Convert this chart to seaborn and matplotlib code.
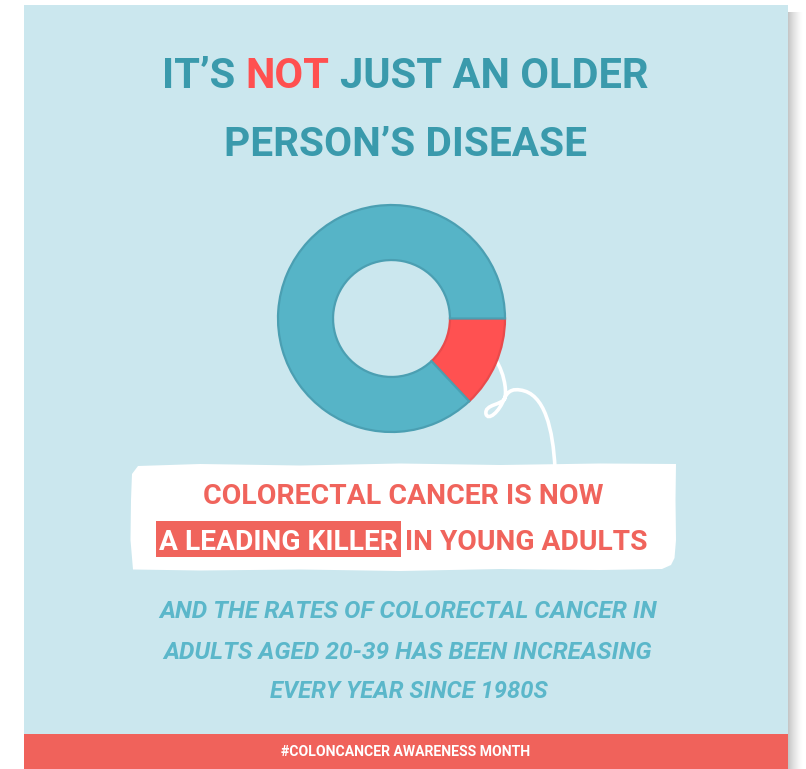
import matplotlib
matplotlib.use("Agg")
import numpy as np
import matplotlib.pyplot as plt
import seaborn as sns
from matplotlib.patches import Rectangle, Polygon, PathPatch
from matplotlib.path import Path

# ---- chart content -------------------------------------------------------
segment_labels = ["Young adults", "Other ages"]
segment_values = [13, 87]
segment_colors = ["#FF5151", "#56B4C7"]
segment_edges = ["#E94A4B", "#4B9FB2"]

title_parts = ["IT’S", "NOT", "JUST AN OLDER"]
title_line2 = "PERSON’S DISEASE"
callout_line1 = "COLORECTAL CANCER IS NOW"
callout_parts = ["A LEADING KILLER", "IN YOUNG ADULTS"]
detail_lines = [
    "AND THE RATES OF COLORECTAL CANCER IN",
    "ADULTS AGED 20-39 HAS BEEN INCREASING",
    "EVERY YEAR SINCE 1980S",
]
footer_text = "#COLONCANCER AWARENESS MONTH"

# ---- palette ---------------------------------------------------------------
BG = "#CBE7EE"
TEAL_TEXT = "#3A9AAC"
RED_TEXT = "#FF5050"
CORAL = "#F0645C"
DETAIL = "#5BB7CA"
FOOTER = "#F0625B"

W, H = 806, 769
sns.set_theme(style="white")
plt.rcParams["font.family"] = ["Roboto", "DejaVu Sans"]

fig = plt.figure(figsize=(W / 100, H / 100), dpi=100)
fig.patch.set_facecolor("white")
ax = fig.add_axes([0, 0, 1, 1])
ax.set_xlim(0, W)
ax.set_ylim(H, 0)
ax.axis("off")
renderer = fig.canvas.get_renderer()

# soft drop shadow on the right of the card
shade = np.zeros((1, 16, 4))
shade[..., :3] = 0.45
shade[0, :, 3] = np.linspace(0.55, 0.0, 16) ** 1.5
ax.imshow(shade, extent=(788, 804, H, 12), aspect="auto", zorder=0.5,
          interpolation="bilinear")
ax.set_xlim(0, W)
ax.set_ylim(H, 0)

# card and footer band
ax.add_patch(Rectangle((24, 5), 764, 764, fc=BG, ec="none", zorder=1))
ax.add_patch(Rectangle((24, 734), 764, 35, fc=FOOTER, ec="none", zorder=2))


def measure(s, size, **kw):
    t = ax.text(0, 0, s, fontsize=size, **kw)
    w = t.get_window_extent(renderer).width
    t.remove()
    return w


def fit_size(s, width, **kw):
    return 20 * width / measure(s, 20, **kw)


def fitted(cx, base, s, width, **kw):
    size = fit_size(s, width, **{k: v for k, v in kw.items() if k in ("weight", "style")})
    return ax.text(cx, base, s, ha="center", va="baseline", fontsize=size, zorder=5, **kw)


def pieces_line(cx, base, parts, colors, width, weight="bold"):
    full = " ".join(parts)
    size = fit_size(full, width, weight=weight)
    total = measure(full, size, weight=weight)
    widths = [measure(p, size, weight=weight) for p in parts]
    gap = (total - sum(widths)) / (len(parts) - 1)
    x = cx - total / 2
    spans = []
    for p, c, w in zip(parts, colors, widths):
        ax.text(x, base, p, ha="left", va="baseline", fontsize=size,
                weight=weight, color=c, zorder=6)
        spans.append((x, x + w))
        x += w + gap
    return spans


# title
pieces_line(405.5, 88, title_parts, [TEAL_TEXT, RED_TEXT, TEAL_TEXT], 485)
fitted(405, 156, title_line2, 362, weight="bold", color=TEAL_TEXT)

# hand-drawn connector from the red segment to the callout
verts = [
    (497, 362),
    (503, 372), (507, 388), (505, 398),
    (503, 405), (484, 404), (486, 414),
    (488, 421), (499, 413), (505, 397),
    (509, 390), (514, 389), (520, 390),
    (545, 393), (553, 430), (555, 468),
]
codes = [Path.MOVETO] + [Path.CURVE4] * 15
ax.add_patch(PathPatch(Path(verts, codes), fc="none", ec="white", lw=2.6,
                       capstyle="round", zorder=3))

# white callout box with slightly irregular edges
box = [
    (138, 466), (200, 464), (300, 465.5), (400, 463.5), (500, 465), (600, 463.5),
    (676, 464), (675.5, 500), (676, 540), (674.5, 558), (671, 565), (662, 569),
    (600, 570), (500, 569), (400, 571), (300, 569.5), (200, 570.5), (133, 569.5),
    (130.5, 540), (131, 500), (132, 474),
]
ax.add_patch(Polygon(box, closed=True, fc="white", ec="none", zorder=4))

fitted(403.5, 504, callout_line1, 399, weight="bold", color=CORAL)
spans = pieces_line(403.5, 549.5, callout_parts, ["white", CORAL], 487)
x0, x1 = spans[0]
ax.add_patch(Rectangle((x0 - 3, 521), (x1 - x0) + 6, 36, fc=CORAL, ec="none", zorder=5))

# supporting text
for (cx, base, w), line in zip([(408.5, 618, 497), (408, 659, 488), (408.5, 698.5, 277)],
                               detail_lines):
    fitted(cx, base, line, w, weight="bold", style="italic", color=DETAIL)

# footer hashtag
fitted(406, 756.5, footer_text, 249, weight="bold", color="white")

# donut chart
R = 113.5
half = 120
dax = fig.add_axes([(391.5 - half) / W, 1 - (318.5 + half) / H, 2 * half / W, 2 * half / H])
dax.set_facecolor("none")
wedges, _ = dax.pie(segment_values, colors=segment_colors, startangle=0,
                    counterclock=False, radius=1.0,
                    wedgeprops=dict(width=0.485, linewidth=1.6))
for wdg, ec in zip(wedges, segment_edges):
    wdg.set_edgecolor(ec)
dax.set_xlim(-half / R, half / R)
dax.set_ylim(-half / R, half / R)
dax.axis("off")

fig.savefig("out.png", dpi=100, facecolor="white")
